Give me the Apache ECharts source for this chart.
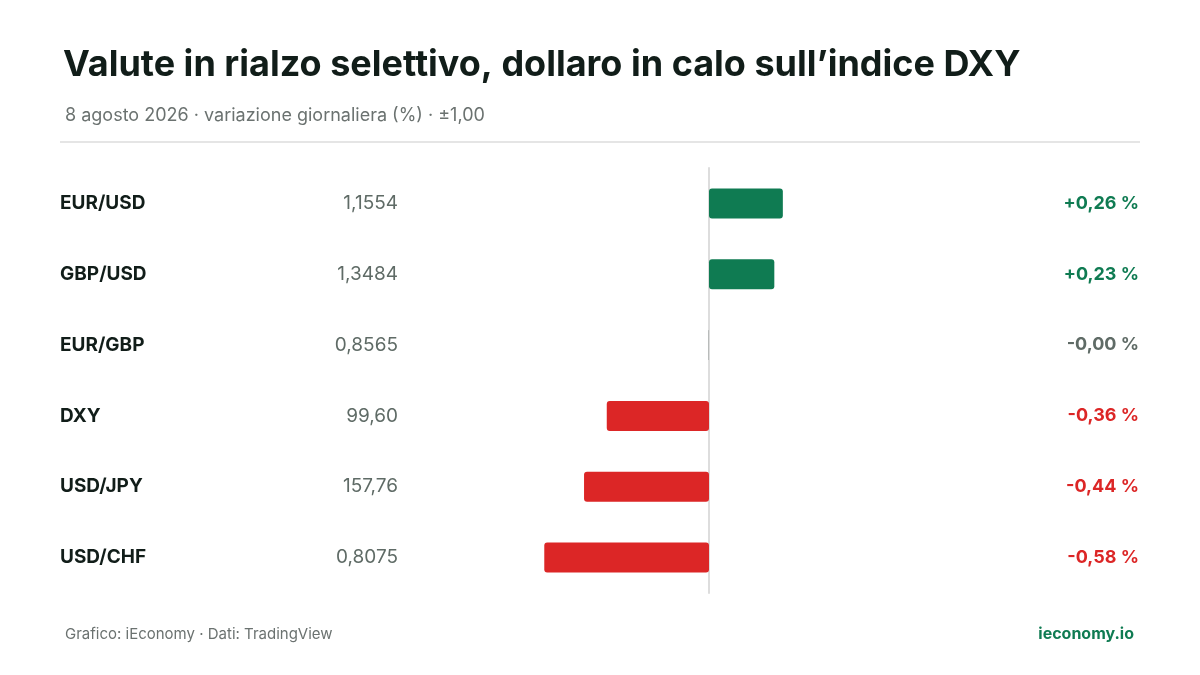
<!DOCTYPE html>
<html><head><meta charset="utf-8">
<script src="https://cdn.jsdelivr.net/npm/echarts@6/dist/echarts.min.js"></script>
<style>html,body{margin:0;padding:0;background:#fff}#c{width:1200px;height:675px}</style>
</head><body><div id="c"></div>
<script>
const pairs = ['EUR/USD','GBP/USD','EUR/GBP','DXY','USD/JPY','USD/CHF'];
const prices = ['1,1554','1,3484','0,8565','99,60','157,76','0,8075'];
const changes = [0.26, 0.23, -0.001, -0.36, -0.44, -0.58];
const changeLabels = ['+0,26 %','+0,23 %','-0,00 %','-0,36 %','-0,44 %','-0,58 %'];

const GREEN = '#0f7b52', RED = '#dc2626', GRAY = '#5f6b66';
const font = 'Inter, "Noto Sans", sans-serif';
const chart = echarts.init(document.getElementById('c'));
function colorOf(i){ const v = changeLabels[i]; return v.startsWith('+') ? GREEN : (v === '-0,00 %' ? GRAY : RED); }
function clsOf(i){ const v = changeLabels[i]; return v.startsWith('+') ? 'g' : (v === '-0,00 %' ? 'n' : 'r'); }

chart.setOption({
  backgroundColor: '#fff',
  animation: false,
  textStyle: { fontFamily: font },
  title: [
    { text: 'Valute in rialzo selettivo, dollaro in calo sull\u2019indice DXY', left: 58, top: 42,
      textStyle: { fontFamily: font, fontSize: 36, fontWeight: 'bold', color: '#111d19' } },
    { text: '8 agosto 2026 \u00b7 variazione giornaliera (%) \u00b7 \u00b11,00', left: 60, top: 102,
      textStyle: { fontFamily: font, fontSize: 18, fontWeight: 'normal', color: '#6b7270' } },
    { text: 'Grafico: iEconomy \u00b7 Dati: TradingView', left: 60, top: 622,
      textStyle: { fontFamily: font, fontSize: 15, fontWeight: 'normal', color: '#6b7270' } },
    { text: 'ieconomy.io', right: 61, top: 621,
      textStyle: { fontFamily: font, fontSize: 16, fontWeight: 'bold', color: GREEN } }
  ],
  graphic: [{ type: 'line', shape: { x1: 60, y1: 142, x2: 1140, y2: 142 }, style: { stroke: '#dddddd', lineWidth: 1.5 } }],
  grid: { left: 425, right: 207, top: 168, bottom: 82 },
  xAxis: { type: 'value', min: -1, max: 1, show: false },
  yAxis: [
    { type: 'category', data: pairs, inverse: true,
      axisTick: { show: false },
      axisLine: { show: true, onZero: true, lineStyle: { color: '#dddddd', width: 2 } },
      axisLabel: {
        margin: 27, align: 'right',
        formatter: (v, i) => '{a|' + v + '}{b|' + prices[i] + '}',
        rich: {
          a: { width: 250, align: 'left', fontSize: 19, fontWeight: 'bold', color: '#111d19', fontFamily: font },
          b: { width: 88, align: 'right', fontSize: 19, color: '#5f6b66', fontFamily: font }
        }
      } },
    { type: 'category', data: pairs, inverse: true, position: 'right',
      axisTick: { show: false }, axisLine: { show: false },
      axisLabel: {
        margin: 146, align: 'right',
        formatter: (v, i) => '{' + clsOf(i) + '|' + changeLabels[i] + '}',
        rich: {
          g: { fontSize: 18, fontWeight: 'bold', color: GREEN, fontFamily: font },
          r: { fontSize: 18, fontWeight: 'bold', color: RED, fontFamily: font },
          n: { fontSize: 18, fontWeight: 'bold', color: GRAY, fontFamily: font }
        }
      } }
  ],
  series: [{
    type: 'bar', yAxisIndex: 0, barWidth: 30,
    data: changes.map((v, i) => ({ value: v, itemStyle: { color: colorOf(i), borderRadius: 3 } }))
  }]
});
</script></body></html>
